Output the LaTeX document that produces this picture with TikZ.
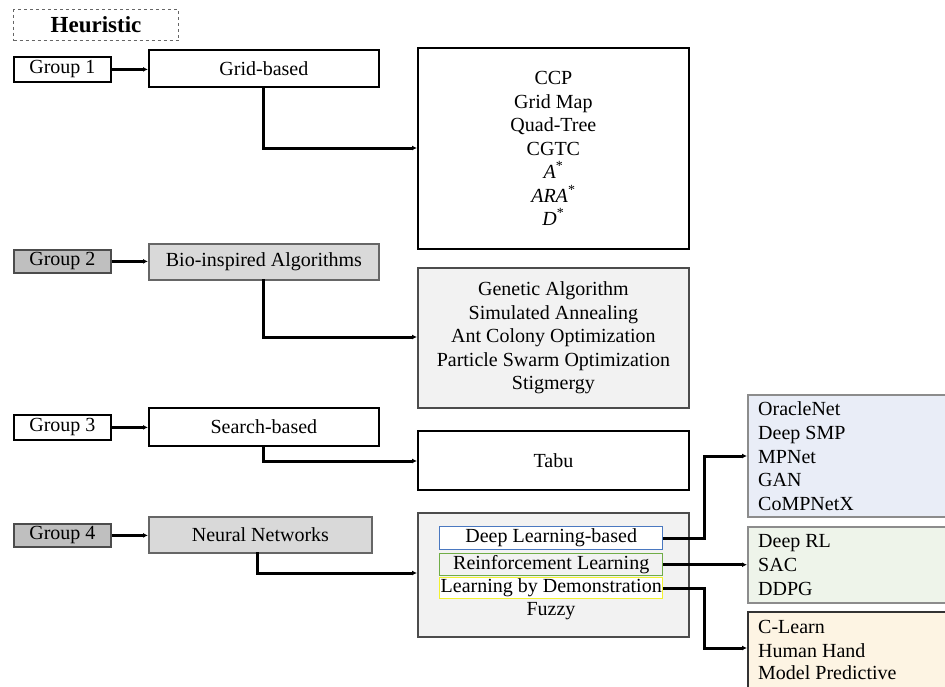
\documentclass[tikz,border=0pt]{standalone}
\usepackage{fontspec}
\setmainfont{Liberation Serif}
\usetikzlibrary{arrows.meta}

\definecolor{grpdark}{HTML}{BFBFBF}
\definecolor{grplight}{HTML}{D9D9D9}
\definecolor{panelgray}{HTML}{F2F2F2}
\definecolor{dlblue}{HTML}{4A78C0}
\definecolor{rlgreen}{HTML}{70AD47}
\definecolor{lbdyellow}{HTML}{F2F230}
\definecolor{fillblue}{HTML}{E9EDF7}
\definecolor{fillgreen}{HTML}{EEF4EA}
\definecolor{fillorange}{HTML}{FDF4E3}

\tikzset{
  txt/.style={font=\fontsize{20}{23.5}\selectfont},
  box/.style={txt, draw=black, line width=1.8pt, inner sep=0pt, anchor=north west, align=center},
  groupbox/.style={box, minimum width=97pt, minimum height=25pt},
  catbox/.style={box, minimum width=230pt, minimum height=37pt},
  listbox/.style={box, minimum width=271pt},
  innerbox/.style={txt, draw, line width=1.4pt, inner sep=0pt, minimum width=223pt, anchor=north west},
  sidebox/.style={txt, draw=gray!90, line width=1.8pt, inner sep=0pt, anchor=north west},
  link/.style={line width=3pt, -{Latex[length=5pt,width=5pt]}},
  itemtext/.style={txt, anchor=west, inner sep=0pt, text height=13.5pt, text depth=4.5pt},
}

\begin{document}
\begin{tikzpicture}[x=1pt, y=-1pt]
  \useasboundingbox (0,0) rectangle (945,686);
  \fill[white] (0,0) rectangle (945,686);

  % title
  \node[draw=gray!80!black, dashed, line width=1pt, minimum width=165pt, minimum height=31pt,
        anchor=north west, inner sep=0pt, font=\fontsize{23}{26}\selectfont\bfseries]
        (title) at (13,9) {Heuristic};

  % ---- Group 1: grid-based ----
  \node[groupbox, minimum height=25pt] (g1) at (13,56) {Group 1};
  \node[catbox] (grid) at (148,49) {Grid-based};
  \node[listbox, minimum height=201pt] (l1) at (417,47)
       {CCP\\Grid Map\\Quad-Tree\\CGTC\\\textit{A}\textsuperscript{*}\\\textit{ARA}\textsuperscript{*}\\\textit{D}\textsuperscript{*}};
  \draw[link] (g1.east) -- (grid.west |- g1.east);
  \draw[link] (263,86) |- (l1.west |- 0,148);

  % ---- Group 2: bio-inspired ----
  \node[groupbox, fill=grpdark, draw=black!70, minimum height=23pt] (g2) at (13,249) {Group 2};
  \node[catbox, fill=grplight, draw=black!60, minimum height=36pt] (bio) at (148,243) {Bio-inspired Algorithms};
  \node[listbox, fill=panelgray, draw=black!70, minimum height=140pt] (l2) at (417,267)
       {Genetic Algorithm\\Simulated Annealing\\Ant Colony Optimization\\Particle Swarm Optimization\\Stigmergy};
  \draw[link] (g2.east) -- (bio.west |- g2.east);
  \draw[link] (263,279) |- (l2.west |- 0,337);

  % ---- Group 3: search-based ----
  \node[groupbox] (g3) at (13,414) {Group 3};
  \node[catbox, minimum height=38pt] (search) at (148,407) {Search-based};
  \node[listbox, minimum height=59pt] (l3) at (417,430) {Tabu};
  \draw[link] (g3.east) -- (search.west |- g3.east);
  \draw[link] (263,445) |- (l3.west |- 0,461);

  % ---- Group 4: neural networks ----
  \node[groupbox, fill=grpdark, draw=black!70, minimum height=23pt] (g4) at (13,523) {Group 4};
  \node[catbox, fill=grplight, draw=black!60, minimum width=223pt, minimum height=36pt] (nn) at (148,516) {Neural Networks};
  \node[listbox, fill=panelgray, draw=black!70, minimum height=124pt] (l4) at (417,512) {};
  \draw[link] (g4.east) -- (nn.west |- g4.east);
  \draw[link] (257,552) |- (l4.west |- 0,573);

  % learning families inside the panel
  \node[innerbox, draw=dlblue, fill=white, minimum height=23pt] (dl) at (439,526) {Deep Learning-based};
  \node[innerbox, draw=rlgreen, fill=panelgray, minimum height=22pt] (rl) at (439,553) {Reinforcement Learning};
  \node[innerbox, draw=lbdyellow, fill=white, minimum height=21pt] (lbd) at (439,577) {Learning by Demonstration};
  \node[txt, inner sep=0pt] (fuzzy) at (551,611) {Fuzzy};

  % method lists on the right, running off the edge
  \begin{scope}
    \clip (0,0) rectangle (945,686);
    \node[sidebox, fill=fillblue, minimum width=220pt, minimum height=122pt] (bdl) at (747,394) {};
    \node[sidebox, fill=fillgreen, minimum width=220pt, minimum height=76pt] (brl) at (747,526) {};
    \node[sidebox, fill=fillorange, draw=black!80, minimum width=220pt, minimum height=90pt] (blbd) at (747,611) {};
  \end{scope}

  \node[itemtext] (t11) at (758,411) {OracleNet};
  \node[itemtext] (t12) at (758,435) {Deep SMP};
  \node[itemtext] (t13) at (758,459) {MPNet};
  \node[itemtext] (t14) at (758,482) {GAN};
  \node[itemtext] (t15) at (758,506) {CoMPNetX};

  \node[itemtext] (t21) at (758,543) {Deep RL};
  \node[itemtext] (t22) at (758,567) {SAC};
  \node[itemtext] (t23) at (758,591) {DDPG};

  \node[itemtext] (t31) at (758,629) {C-Learn};
  \node[itemtext] (t32) at (758,653) {Human Hand};
  \node[itemtext] (t33) at (758,675) {Model Predictive};

  \coordinate (jx) at (704,0);
  \draw[link] (dl.east) -- (jx |- dl.east) |- (bdl.west |- 0,456);
  \draw[link] (rl.east) -- (brl.west |- rl.east);
  \draw[link] (lbd.east) -- (jx |- lbd.east) |- (blbd.west |- 0,648);
\end{tikzpicture}
\end{document}
